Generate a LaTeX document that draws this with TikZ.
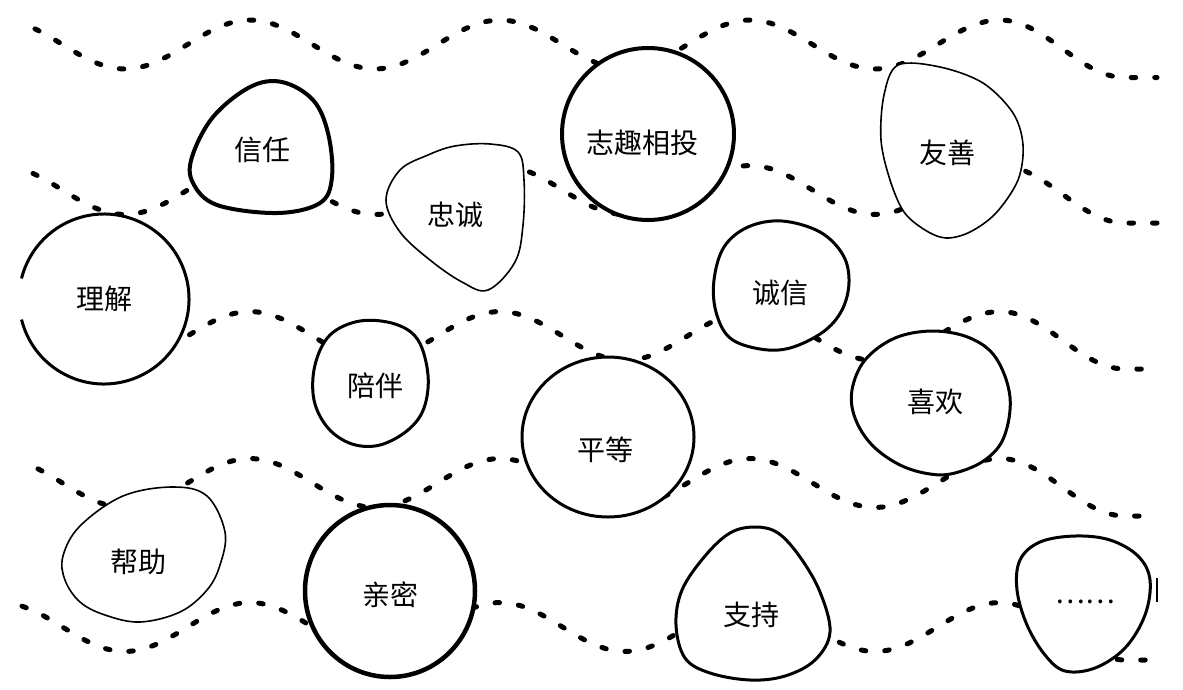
\documentclass[tikz,border=0pt]{standalone}
\usepackage{fontspec}
\newfontfamily\cjk{Noto Sans CJK SC}
\begin{document}
\begin{tikzpicture}[x=1pt,y=-1pt,
  wave/.style={line width=5pt, dash pattern=on 4.5pt off 19pt, line cap=round},
  blobthick/.style={line width=4pt, fill=white},
  blobmid/.style={line width=3pt, fill=white},
  blobthin/.style={line width=1.6pt, fill=white},
  word/.style={font=\cjk\fontsize{28pt}{30pt}\selectfont, inner sep=0pt}]
\fill[white] (0,0) rectangle (1183,689);
\useasboundingbox (0,0) rectangle (1183,689);
% wavy dashed lines
\foreach \c/\s in {44.5/35, 190/33, 336/40, 483/38, 627/22}{
  \draw[wave] plot[domain=\s:1000, samples=140, variable=\x] ({\x},{\c+24.5*cos(1.44*(\x-125))})
    -- plot[domain=1000:1125, samples=30, variable=\x] ({\x},{\c+4.25-28.75*cos(1.44*(\x-1000))})
    -- (1157,{\c+33});
}
% blobs
\draw[blobthick] plot[smooth cycle, tension=0.6] coordinates {(282,82) (313,100) (328,133) (332,177) (320,203) (277,213) (217,205) (193,183) (192,157) (213,117) (250,87)};
\draw[blobthin] plot[smooth cycle, tension=0.6] coordinates {(455,146) (490,144) (518,152) (524,180) (523,225) (515,262) (488,290) (462,282) (430,260) (400,232) (386,200) (400,170) (428,155)};
\draw[blobthick] (648,134) circle[radius=86pt];
\draw[blobthin] plot[smooth cycle, tension=0.55] coordinates {(898,65) (940,67) (983,83) (1013,113) (1023,145) (1018,180) (996,213) (970,232) (946,238) (925,230) (904,212) (890,180) (881,140) (884,95)};
\fill[white] (104,299) circle[radius=85pt];
\draw[line width=3pt] (104,299) ++(194:85pt) arc[start angle=194, end angle=526, radius=85pt];
\draw[blobmid] plot[smooth cycle, tension=0.6] coordinates {(782,221) (820,232) (843,255) (849,282) (842,310) (823,332) (790,348) (760,349) (730,338) (716,312) (714,280) (724,247) (748,227)};
\draw[blobmid] plot[smooth cycle, tension=0.6] coordinates {(360,321) (395,324) (418,340) (428,375) (424,408) (408,430) (380,445) (352,444) (328,428) (314,400) (315,365) (330,335)};
\draw[blobmid] (608,437) ellipse[x radius=86pt, y radius=80pt];
\draw[blobmid] plot[smooth cycle, tension=0.6] coordinates {(933,331) (970,338) (996,358) (1010,397) (1004,437) (985,460) (955,473) (930,474) (900,465) (872,445) (855,418) (852,390) (865,360) (895,338)};
\draw[blobthin] plot[smooth cycle, tension=0.6] coordinates {(173,487) (207,496) (225,532) (220,565) (207,590) (180,612) (140,622) (105,615) (80,602) (65,580) (63,556) (80,526) (123,496)};
\draw[line width=4.5pt, fill=white] (390,591) ellipse[x radius=85pt, y radius=86pt];
\draw[blobmid] plot[smooth cycle, tension=0.6] coordinates {(755,527) (778,533) (800,557) (820,592) (830,632) (815,660) (785,676) (750,680) (710,673) (685,658) (676,625) (682,590) (705,556) (730,533)};
\draw[blobmid] plot[smooth cycle, tension=0.6] coordinates {(1075,536) (1110,540) (1138,556) (1150,580) (1145,615) (1125,648) (1095,668) (1065,671) (1045,655) (1027,625) (1017,590) (1020,560) (1040,542)};
\draw[line width=1.5pt] (1157,578) -- (1157,602);
% labels
\node[word] (xinren) at (262,150) {信任};
\node[word] (zhongcheng) at (455,215) {忠诚};
\node[word] (zhiqu) at (642,143) {志趣相投};
\node[word] (youshan) at (947,153) {友善};
\node[word] (lijie) at (104,299) {理解};
\node[word] (chengxin) at (780,293) {诚信};
\node[word] (peiban) at (375,386) {陪伴};
\node[word] (pingdeng) at (605,450) {平等};
\node[word] (xihuan) at (935,402) {喜欢};
\node[word] (bangzhu) at (138,562) {帮助};
\node[word] (qinmi) at (390,595) {亲密};
\node[word] (zhichi) at (751,615) {支持};
\node[word] (more) at (1085,602) {……};
\end{tikzpicture}
\end{document}
